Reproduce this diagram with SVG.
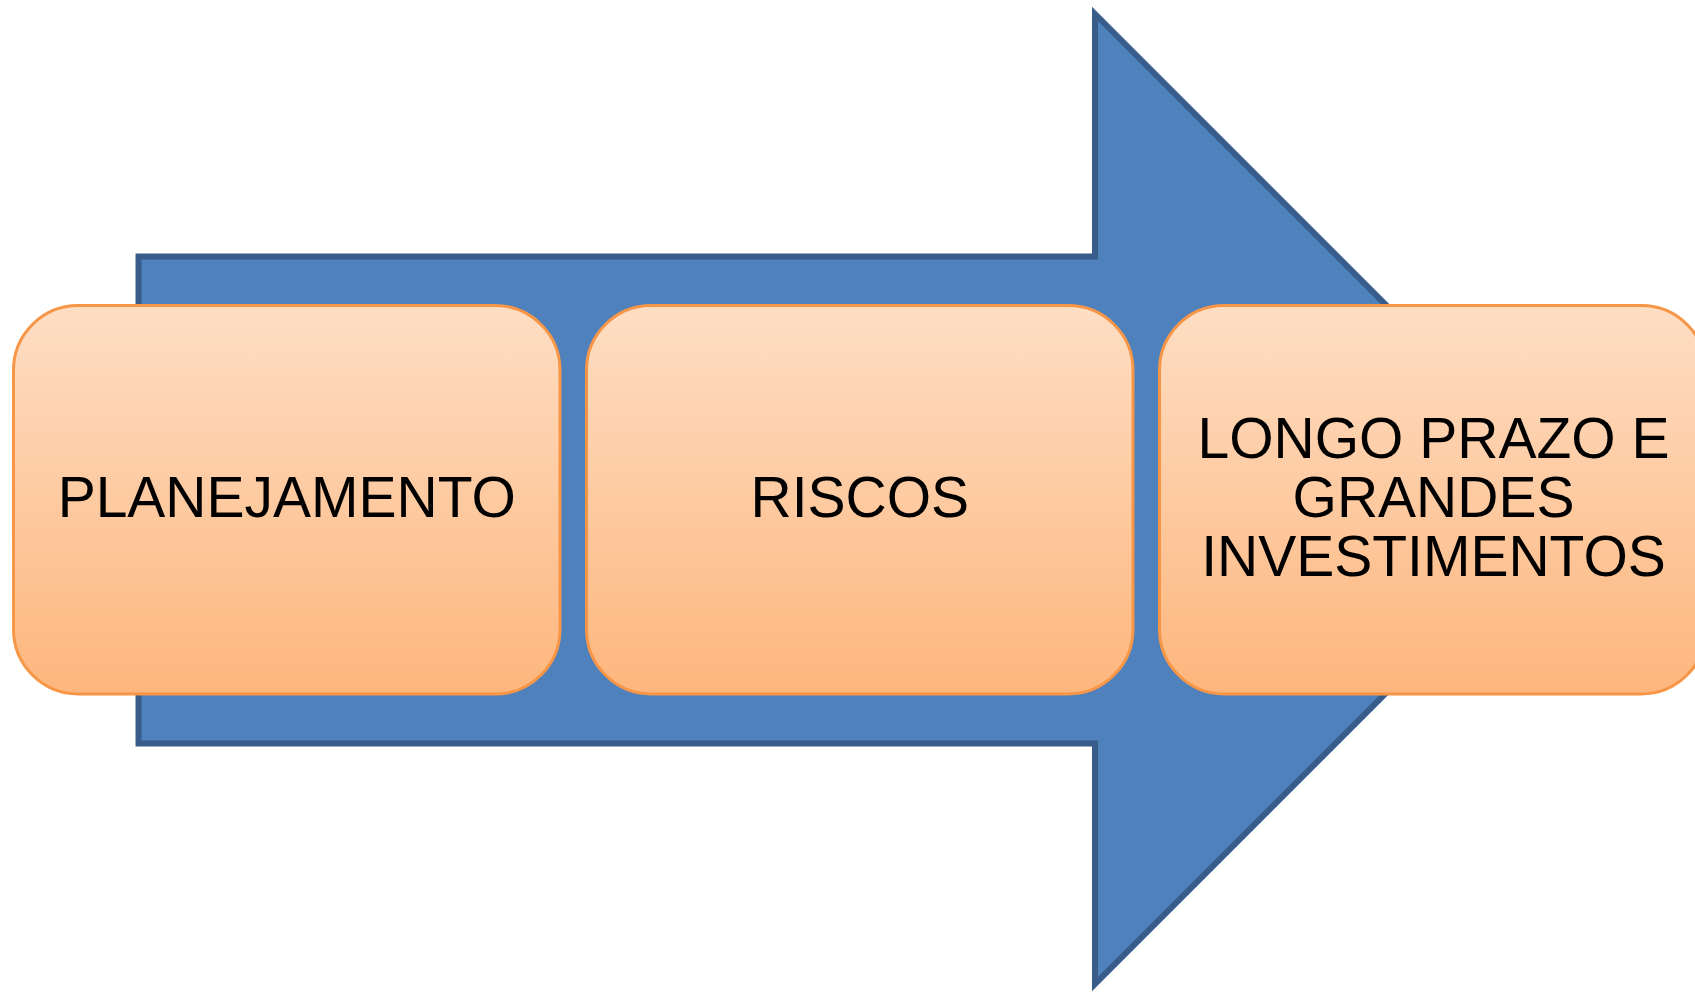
<svg xmlns="http://www.w3.org/2000/svg" width="1695" height="992" viewBox="0 0 1695 992">
<defs>
<linearGradient id="og" x1="0" y1="0" x2="0" y2="1">
<stop offset="0" stop-color="#FEDEC4"/>
<stop offset="1" stop-color="#FDB67D"/>
</linearGradient>
<style>
.box{fill:url(#og);stroke:#F79646;stroke-width:3}
.lbl{font-family:"Liberation Sans",Arial,sans-serif;font-size:57px;fill:#000;text-anchor:middle}
</style>
</defs>
<rect width="1695" height="992" fill="#FFFFFF"/>
<g id="arrow">
<path d="M138.5,256.5 H1095 V14 L1580,499 L1095,984 V743.5 H138.5 Z" fill="#4F81BD" stroke="#385D8A" stroke-width="6"/>
</g>
<g id="node-planejamento">
<rect class="box" x="13.5" y="305.5" width="546.5" height="388.5" rx="64.7" ry="64.7"/>
<text class="lbl" x="286.75" y="517">PLANEJAMENTO</text>
</g>
<g id="node-riscos">
<rect class="box" x="586.5" y="305.5" width="546.5" height="388.5" rx="64.7" ry="64.7"/>
<text class="lbl" x="859.75" y="517">RISCOS</text>
</g>
<g id="node-longo-prazo">
<rect class="box" x="1159.5" y="305.5" width="546.5" height="388.5" rx="64.7" ry="64.7"/>
<text class="lbl" x="1433.5" y="457.5">LONGO PRAZO E</text>
<text class="lbl" x="1433.5" y="516.5">GRANDES</text>
<text class="lbl" x="1433.5" y="575.5">INVESTIMENTOS</text>
</g>
<g id="connectors"/>
</svg>
